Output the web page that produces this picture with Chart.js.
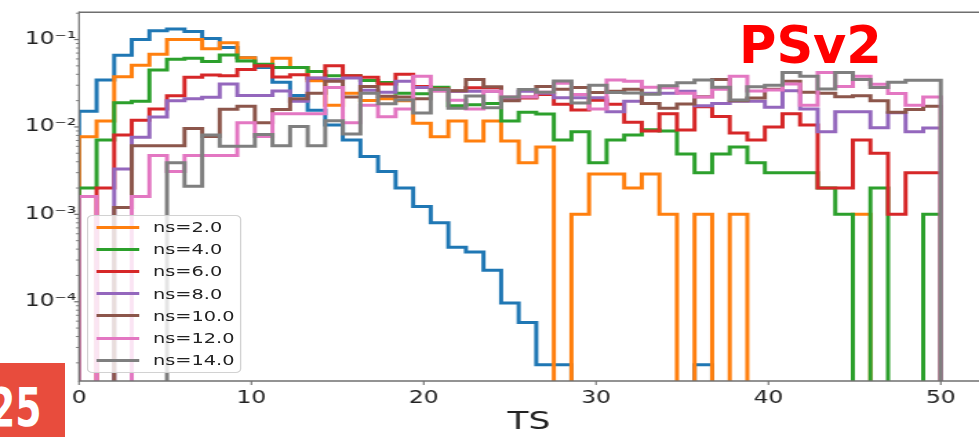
<!DOCTYPE html>
<html>
<head>
<meta charset="utf-8">
<title>TS histograms</title>
<script src="https://cdn.jsdelivr.net/npm/chart.js@4.4.1/dist/chart.umd.min.js"></script>
<style>
  html, body { margin: 0; padding: 0; background: #ffffff; overflow: hidden; }
  #page { position: relative; width: 979px; height: 437px; overflow: hidden; background: #ffffff; }
  /* the plot is laid out on a narrower canvas and widened horizontally */
  #plot { position: absolute; left: 0; top: 0; width: 710px; height: 437px;
          transform: scaleX(1.3789); transform-origin: 0 0; }
  #plot canvas { position: absolute; left: 0; top: 0; }
  #legend { position: absolute; left: 63.3px; top: 215px; width: 112px; height: 158px;
            box-sizing: border-box; border: 1.2px solid #d2d2d2; border-radius: 4px;
            background: rgba(255,255,255,0.8); font-family: 'DejaVu Sans', sans-serif;
            font-size: 14px; color: #222; }
  #legend .row { position: absolute; left: 0; width: 100%; height: 22.2px; line-height: 22.2px; }
  #legend .swatch { position: absolute; left: 5.6px; width: 31.4px; height: 3px; top: 9.6px; }
  #legend .label { position: absolute; left: 46.7px; top: 0; white-space: nowrap; }
  #tag { position: absolute; left: 739px; top: 20px; font: bold 51px 'DejaVu Sans', sans-serif;
         line-height: 1; color: #ff0000; white-space: nowrap; }
  #badge { position: absolute; left: 0; top: 363px; width: 65px; height: 74px;
           background: #e84c3d; overflow: hidden; }
  #badge span { position: absolute; left: -10.7px; top: 18px; font: bold 54px 'DejaVu Sans', sans-serif;
                line-height: 1; color: #ffffff; transform: scaleX(0.7); transform-origin: 0 0; white-space: nowrap; }
</style>
</head>
<body>
<div id="page">
  <div id="plot">
    <canvas id="chart" width="710" height="437" style="width:710px;height:437px"></canvas>
    <div id="legend"></div>
  </div>
  <div id="tag">PSv2</div>
  <div id="badge"><span>25</span></div>
</div>
<script>
// ---- histogram binning: 49 equal bins over TS in [0, 50] ----
const HIST_RANGE = [0, 50];
const BIN_COUNT = 49;

// ---- normalised counts per bin, one array per ns value ----
const ns0 = [0.0151, 0.0344, 0.066, 0.100, 0.126, 0.132, 0.124, 0.103, 0.081, 0.062,
  0.048, 0.0324, 0.0229, 0.0155, 0.0105, 0.0071, 0.0046, 0.0031, 0.0020, 0.00123,
  0.0008, 0.00042, 0.00037, 0.00023, 0.000097, 0.000058, 0.000019, 0.000019, 0, 0,
  0, 0, 0, 0, 0, 0.000019, 0, 0, 0, 0,
  0, 0, 0, 0, 0, 0, 0, 0, 0];
const ns2 = [0.0077, 0.0117, 0.0375, 0.0508, 0.0678, 0.100, 0.100, 0.0785, 0.092, 0.062,
  0.050, 0.061, 0.048, 0.0338, 0.0177, 0.0243, 0.0201, 0.021, 0.020, 0.011,
  0.0077, 0.0117, 0.0069, 0.0117, 0.0069, 0.0039, 0.0059, 0, 0.001, 0.0029,
  0.0029, 0.002, 0.0029, 0.001, 0, 0.001, 0, 0.001, 0, 0,
  0, 0, 0, 0, 0.001, 0, 0, 0, 0];
const ns4 = [0.002, 0.0071, 0.0189, 0.0197, 0.0447, 0.0594, 0.061, 0.056, 0.0665, 0.057,
  0.052, 0.048, 0.048, 0.043, 0.0385, 0.0385, 0.034, 0.0322, 0.0243, 0.024,
  0.0285, 0.0175, 0.018, 0.0185, 0.0117, 0.0147, 0.0141, 0.0071, 0.0088, 0.0039,
  0.0071, 0.0081, 0.0093, 0.009, 0.0049, 0.003, 0.0049, 0.0059, 0.0039, 0.003,
  0.003, 0.003, 0.002, 0.001, 0, 0.002, 0, 0, 0.001];
const ns6 = [0, 0.002, 0.0081, 0.0119, 0.016, 0.0228, 0.037, 0.0393, 0.0385, 0.0455,
  0.050, 0.0372, 0.0395, 0.036, 0.050, 0.0385, 0.037, 0.031, 0.040, 0.029,
  0.0272, 0.0257, 0.028, 0.028, 0.021, 0.0215, 0.0235, 0.0182, 0.0156, 0.0202,
  0.0182, 0.0113, 0.009, 0.0142, 0.0092, 0.017, 0.0132, 0.0085, 0.0071, 0.010,
  0.0142, 0.0105, 0.002, 0.002, 0.0071, 0.005, 0.001, 0.003, 0.003];
const ns8 = [0, 0, 0.0033, 0.0076, 0.013, 0.020, 0.021, 0.0218, 0.031, 0.0229,
  0.0229, 0.0258, 0.0197, 0.0363, 0.035, 0.0363, 0.0263, 0.025, 0.0333, 0.0283,
  0.0265, 0.0256, 0.0256, 0.0256, 0.0204, 0.0256, 0.0243, 0.0216, 0.0216, 0.0216,
  0.0149, 0.0197, 0.0243, 0.0243, 0.0256, 0.0175, 0.0185, 0.0197, 0.0197, 0.0168,
  0.026, 0.016, 0.0088, 0.0149, 0.0149, 0.0098, 0.0145, 0.0088, 0.0097];
const ns10 = [0, 0, 0.0012, 0.0061, 0.0061, 0.0061, 0.0096, 0.0078, 0.0159, 0.0172,
  0.0112, 0.0158, 0.021, 0.0243, 0.0333, 0.022, 0.029, 0.0225, 0.022, 0.021,
  0.026, 0.026, 0.035, 0.0288, 0.020, 0.022, 0.029, 0.027, 0.0283, 0.0247,
  0.0256, 0.027, 0.0186, 0.0164, 0.0183, 0.0222, 0.035, 0.020, 0.0215, 0.027,
  0.0333, 0.025, 0.0243, 0.0222, 0.0228, 0.0199, 0.0147, 0.0158, 0.0172];
const ns12 = [0.0016, 0, 0, 0.0016, 0.0047, 0.0031, 0.0047, 0.0047, 0.0047, 0.0112,
  0.0078, 0.0142, 0.0142, 0.0142, 0.0283, 0.0112, 0.0177, 0.0131, 0.016, 0.038,
  0.0258, 0.0202, 0.016, 0.0256, 0.022, 0.022, 0.025, 0.0316, 0.0235, 0.016,
  0.0344, 0.0333, 0.0285, 0.028, 0.0243, 0.022, 0.027, 0.038, 0.0258, 0.0264,
  0.031, 0.0177, 0.042, 0.029, 0.038, 0.0308, 0.0242, 0.0177, 0.022];
const ns14 = [0, 0, 0, 0, 0, 0.0039, 0.0021, 0.0081, 0.006, 0.006,
  0.0082, 0.0061, 0.0101, 0.0061, 0.0118, 0.0083, 0.0243, 0.0184, 0.0203, 0.0144,
  0.0268, 0.0164, 0.0226, 0.0166, 0.022, 0.0268, 0.025, 0.0336, 0.0188, 0.030,
  0.0247, 0.0245, 0.0236, 0.0297, 0.032, 0.0344, 0.0285, 0.0204, 0.0288, 0.030,
  0.042, 0.038, 0.0272, 0.042, 0.035, 0.0283, 0.0324, 0.0342, 0.0342];

const SERIES_LABELS = ['ns=0.0', 'ns=2.0', 'ns=4.0', 'ns=6.0', 'ns=8.0', 'ns=10.0', 'ns=12.0', 'ns=14.0'];
const SERIES_VALUES = [ns0, ns2, ns4, ns6, ns8, ns10, ns12, ns14];
const SERIES_COLORS = ['#1f77b4', '#ff7f0e', '#2ca02c', '#d62728', '#9467bd', '#8c564b', '#e377c2', '#7f7f7f'];
const IN_LEGEND = [false, true, true, true, true, true, true, true];

// ---- axes ----
const X_TICKS = [0, 10, 20, 30, 40, 50];
const X_TICK_LABELS = ['0', '10', '20', '30', '40', '50'];
const X_MAX = 52.22;
const Y_TICKS = [1e-4, 1e-3, 1e-2, 1e-1];
const Y_TICK_LABELS = ['10\u207B\u2074', '10\u207B\u00B3', '10\u207B\u00B2', '10\u207B\u00B9'];
const Y_MIN = 1.24e-5;
const Y_MAX = 0.2055;
const MINOR_MULTIPLIERS = [2, 3, 4, 5, 6, 7, 8, 9];
const AXIS_COLOR = '#6f6f6f';
const TEXT_COLOR = '#222222';
// empty bins sit far below the visible range so their steps run off the bottom edge
const EMPTY_BIN = 1e-9;

const binWidth = (HIST_RANGE[1] - HIST_RANGE[0]) / BIN_COUNT;
const binEdges = Array.from({ length: BIN_COUNT + 1 }, (_, k) => HIST_RANGE[0] + k * binWidth);

// step outline of one histogram: rise at the first edge, fall at the last
function stepPoints(values) {
  const pts = [{ x: binEdges[0], y: EMPTY_BIN }];
  values.forEach((v, k) => pts.push({ x: binEdges[k], y: v > 0 ? v : EMPTY_BIN }));
  pts.push({ x: binEdges[BIN_COUNT], y: EMPTY_BIN });
  return pts;
}

const datasets = SERIES_VALUES.map((vals, i) => ({
  label: SERIES_LABELS[i],
  data: stepPoints(vals),
  borderColor: SERIES_COLORS[i],
  backgroundColor: SERIES_COLORS[i],
  borderWidth: 3,
  pointRadius: 0,
  stepped: true,
  fill: false,
  clip: 0,
  order: SERIES_VALUES.length - 1 - i   // later series drawn on top
}));

// axes frame and tick marks, drawn over the histogram lines
const frameAndTicks = {
  id: 'frameAndTicks',
  afterDatasetsDraw(chart) {
    const { ctx, chartArea: a, scales: { x, y } } = chart;
    ctx.save();
    ctx.strokeStyle = AXIS_COLOR;
    ctx.lineCap = 'butt';
    const seg = (x1, y1, x2, y2, w) => {
      ctx.lineWidth = w;
      ctx.beginPath(); ctx.moveTo(x1, y1); ctx.lineTo(x2, y2); ctx.stroke();
    };
    seg(a.left, a.top, a.right, a.top, 1.5);
    seg(a.left, a.bottom, a.right, a.bottom, 1.5);
    seg(a.left, a.top - 0.75, a.left, a.bottom + 0.75, 1.2);
    X_TICKS.forEach(v => {
      const px = x.getPixelForValue(v);
      seg(px, a.bottom, px, a.bottom + 4, 1.1);
    });
    Y_TICKS.forEach(v => {
      const py = y.getPixelForValue(v);
      seg(a.left - 3.6, py, a.left, py, 1.2);
    });
    for (let e = -6; e <= 0; e++) {
      MINOR_MULTIPLIERS.forEach(m => {
        const v = m * Math.pow(10, e);
        if (v < y.min || v > y.max) return;
        const py = y.getPixelForValue(v);
        seg(a.left - 2.2, py, a.left, py, 0.9);
      });
    }
    ctx.restore();
  }
};

new Chart(document.getElementById('chart'), {
  type: 'line',
  data: { datasets },
  options: {
    responsive: false,
    animation: false,
    events: [],
    layout: { padding: { top: 7.3, right: 0, bottom: 0, left: 0 } },
    plugins: { legend: { display: false }, tooltip: { enabled: false } },
    scales: {
      x: {
        type: 'linear',
        min: HIST_RANGE[0],
        max: X_MAX,
        afterBuildTicks: s => { s.ticks = X_TICKS.map(v => ({ value: v })); },
        afterFit: s => { s.height = 56; },
        grid: { display: false, drawTicks: false },
        border: { display: false },
        ticks: {
          autoSkip: false, maxRotation: 0, padding: 7,
          color: TEXT_COLOR,
          font: { family: 'DejaVu Sans', size: 17 },
          callback: (v, i) => X_TICK_LABELS[i]
        },
        title: {
          display: true, text: 'TS', color: TEXT_COLOR,
          font: { family: 'DejaVu Sans', size: 25 },
          padding: { top: 0, bottom: 0 }
        }
      },
      y: {
        type: 'logarithmic',
        min: Y_MIN,
        max: Y_MAX,
        afterBuildTicks: s => { s.ticks = Y_TICKS.map(v => ({ value: v })); },
        afterFit: s => { s.width = 57.3; },
        grid: { display: false, drawTicks: false },
        border: { display: false },
        ticks: {
          autoSkip: false, padding: 2,
          color: TEXT_COLOR,
          font: { family: 'DejaVu Sans', size: 17 },
          callback: (v, i) => Y_TICK_LABELS[i]
        }
      }
    }
  },
  plugins: [frameAndTicks]
});

// legend box listing the labelled series
const legend = document.getElementById('legend');
let row = 0;
SERIES_LABELS.forEach((label, i) => {
  if (!IN_LEGEND[i]) return;
  const r = document.createElement('div');
  r.className = 'row';
  r.style.top = (row * 22.2) + 'px';
  const sw = document.createElement('div');
  sw.className = 'swatch';
  sw.style.background = SERIES_COLORS[i];
  const tx = document.createElement('div');
  tx.className = 'label';
  tx.textContent = label;
  r.appendChild(sw); r.appendChild(tx);
  legend.appendChild(r);
  row++;
});
</script>
</body>
</html>
